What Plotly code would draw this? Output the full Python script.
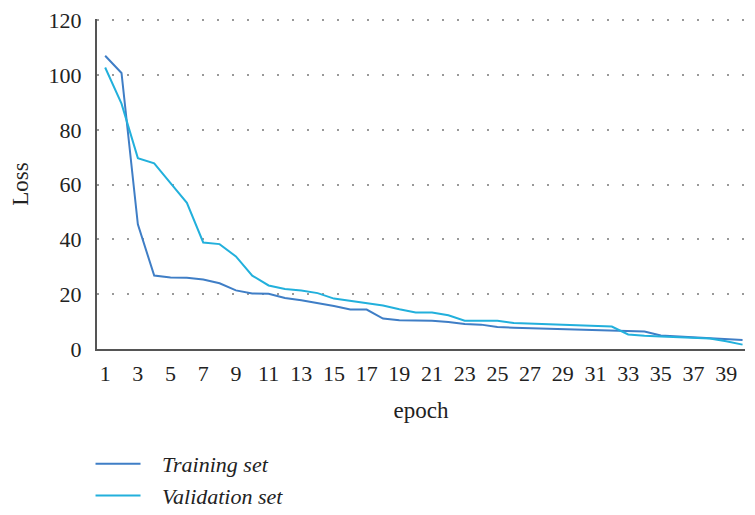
import plotly.graph_objects as go

epochs = list(range(1, 41))
training = [107.1, 100.8, 45.5, 26.8, 26.1, 26.0, 25.4, 24.0, 21.4, 20.3,
            20.2, 18.6, 17.8, 16.8, 15.7, 14.4, 14.4, 11.1, 10.5, 10.4,
            10.3, 9.9, 9.1, 8.9, 8.0, 7.8, 7.6, 7.5, 7.3, 7.1,
            7.0, 6.6, 6.5, 6.4, 4.9, 4.6, 4.3, 4.0, 3.6, 3.3]
validation = [102.8, 89.6, 69.7, 67.8, 60.6, 53.4, 38.9, 38.3, 33.8, 26.8,
              23.2, 21.9, 21.4, 20.4, 18.4, 17.5, 16.8, 15.9, 14.5, 13.3,
              13.3, 12.3, 10.3, 10.3, 10.3, 9.5, 9.3, 9.2, 9.0, 8.8,
              8.4, 8.2, 5.3, 4.8, 4.6, 4.3, 4.0, 3.8, 2.8, 1.6]
x_ticks = list(range(1, 40, 2))
y_ticks = [0, 20, 40, 60, 80, 100, 120]

font_family = "Liberation Serif"
pad = "\u00a0\u00a0\u00a0"

fig = go.Figure()
fig.add_trace(go.Scatter(x=epochs, y=training, mode="lines", name=pad + "Training set",
                         line=dict(color="#3f7ec6", width=2)))
fig.add_trace(go.Scatter(x=epochs, y=validation, mode="lines", name=pad + "Validation set",
                         line=dict(color="#22b0dc", width=2)))

fig.update_layout(
    width=755, height=515,
    margin=dict(l=89, r=18, t=11, b=174, autoexpand=False),
    paper_bgcolor="white", plot_bgcolor="white",
    font=dict(family=font_family, size=22, color="#222222"),
    showlegend=True,
    legend=dict(x=-0.010, y=-0.285, xanchor="left", yanchor="top",
                font=dict(family=font_family, size=22, style="italic"),
                itemwidth=45, tracegroupgap=0, bgcolor="rgba(0,0,0,0)"),
)
fig.update_xaxes(range=[0.5, 40.15], tickmode="array", tickvals=x_ticks,
                 showgrid=False, zeroline=False, showline=True, automargin=False,
                 linecolor="#555555", linewidth=2, ticks="", ticklabelstandoff=4,
                 ticklabeloverflow="allow",
                 title=dict(text="epoch", standoff=16, font=dict(size=23)))
fig.update_yaxes(range=[0, 120.5], tickmode="array", tickvals=y_ticks,
                 showgrid=True, gridcolor="#999999", gridwidth=2, griddash="2px,13px",
                 zeroline=False, showline=True, linecolor="#555555", linewidth=2,
                 ticks="", ticklabelstandoff=9, automargin=False,
                 ticklabeloverflow="allow",
                 title=dict(text="Loss", standoff=14, font=dict(size=23)))

fig.write_html("out.html")
